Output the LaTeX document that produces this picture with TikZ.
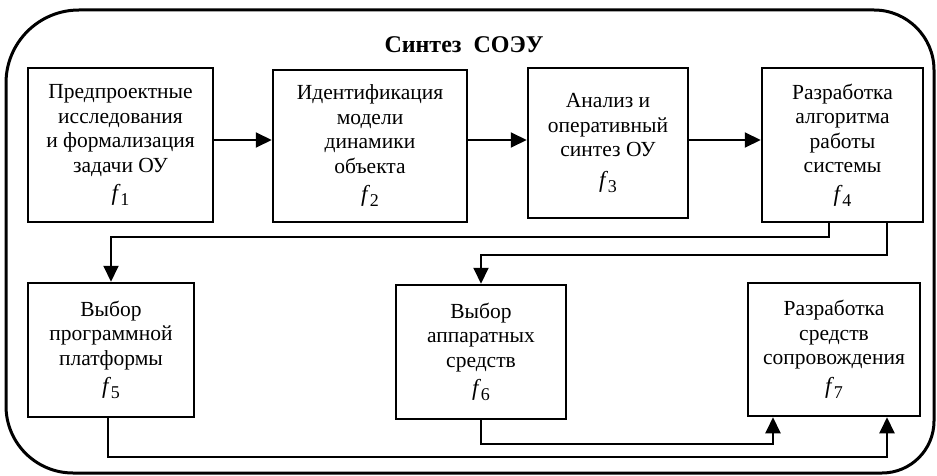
\documentclass[tikz,border=0pt]{standalone}
\usepackage{fontspec}
\setmainfont{Liberation Serif}
\usetikzlibrary{arrows.meta,calc}
\newcommand{\fsub}[1]{{\fontsize{23}{23}\selectfont\textit{f}}\kern-0.5pt\raisebox{-5pt}{\fontsize{18}{18}\selectfont #1}}
\begin{document}
\begin{tikzpicture}[x=1pt,y=-1pt,
  box/.style={draw,line width=2.5pt,inner sep=0pt,align=center,
    font=\fontsize{21.5}{24.5}\selectfont},
  arr/.style={line width=2pt,-{Triangle[length=16pt,width=15pt]}},
  link/.style={line width=2pt}]
\useasboundingbox (0,0) rectangle (937,476);
% outer frame
\draw[line width=3pt] (81,10) -- (874,10) arc[start angle=-90,end angle=0,radius=60]
  -- (934,421) arc[start angle=0,end angle=90,radius=52]
  -- (73,473) arc[start angle=90,end angle=180,radius=67]
  -- (6,83) arc[start angle=180,end angle=270,radius=73] -- cycle;
\node[font=\fontsize{24}{28}\selectfont\bfseries] (title) at (464,45) {Синтез\ \ СОЭУ};
% boxes
\node[box,minimum width=185,minimum height=154] (b1) at (120.5,145)
  {Предпроектные\\исследования\\и формализация\\задачи ОУ\\[4pt]\fsub{1}};
\node[box,minimum width=194,minimum height=152] (b2) at (370,146)
  {Идентификация\\модели\\динамики\\объекта\\[4pt]\fsub{2}};
\node[box,minimum width=160,minimum height=150] (b3) at (608,143)
  {Анализ и\\оперативный\\синтез ОУ\\[6pt]\fsub{3}};
\node[box,minimum width=161,minimum height=154] (b4) at (842.5,145)
  {Разработка\\алгоритма\\работы\\системы\\[4pt]\fsub{4}};
\node[box,minimum width=166,minimum height=134] (b5) at (111,350)
  {Выбор\\программной\\платформы\\[4pt]\fsub{5}};
\node[box,minimum width=170,minimum height=134] (b6) at (481,352)
  {Выбор\\аппаратных\\средств\\[4pt]\fsub{6}};
\node[box,minimum width=172,minimum height=133] (b7) at (834,349.5)
  {Разработка\\средств\\сопровождения\\[4pt]\fsub{7}};
% helper levels
\coordinate (r1) at (0,140);
\coordinate (h1) at (0,237);
\coordinate (h2) at (0,255);
\coordinate (h3) at (0,444);
\coordinate (h4) at (0,457);
\coordinate (o1) at ([xshift=-13.5pt]b4.south);
\coordinate (o2) at ([xshift=44.5pt]b4.south);
\coordinate (i1) at ([xshift=-61pt]b7.south);
\coordinate (i2) at ([xshift=53pt]b7.south);
\coordinate (o5) at ([xshift=-3pt]b5.south);
% connectors
\draw[arr] (b1.east |- r1) -- (b2.west |- r1);
\draw[arr] (b2.east |- r1) -- (b3.west |- r1);
\draw[arr] (b3.east |- r1) -- (b4.west |- r1);
\draw[arr] (o1) -- (o1 |- h1) -| (b5.north);
\draw[arr] (o2) -- (o2 |- h2) -| (b6.north);
\draw[arr] (b6.south) -- (b6.south |- h3) -| (i1);
\draw[arr] (o5) -- (o5 |- h4) -| (i2);
\end{tikzpicture}
\end{document}
